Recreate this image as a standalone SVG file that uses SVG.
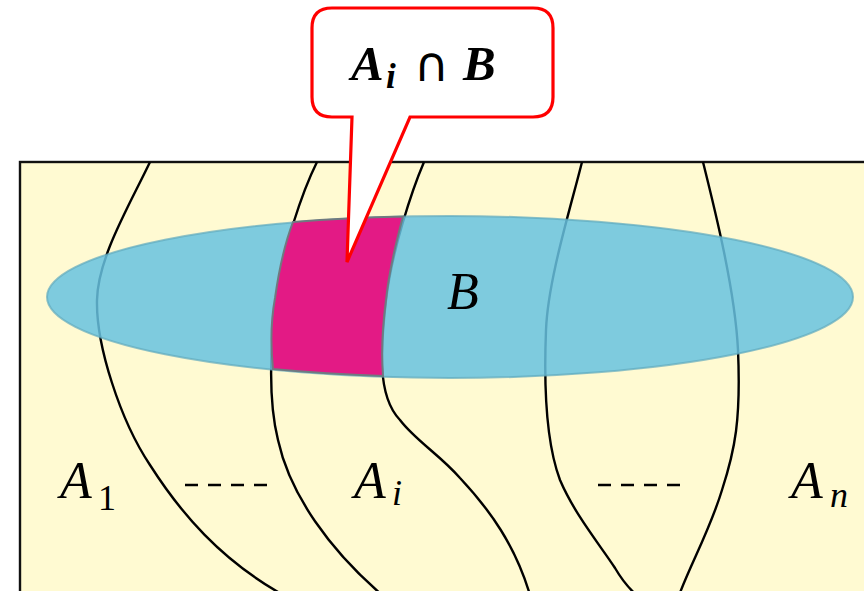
<svg xmlns="http://www.w3.org/2000/svg" width="864" height="591" viewBox="0 0 864 591">
<style>
.curve{fill:none;stroke:#000;stroke-width:2.4}
.lbl{font-family:"Liberation Serif","DejaVu Serif",serif;font-style:italic;fill:#000}
.sub{font-family:"Liberation Serif","DejaVu Serif",serif;fill:#000}
.title{font-family:"Liberation Serif","DejaVu Serif",serif;font-style:italic;font-weight:bold;fill:#000}
.dash{stroke:#000;stroke-width:2.6;stroke-dasharray:13 10}
</style>
<rect width="864" height="591" fill="#fff"/>
<g id="universe">
<rect x="20" y="162" width="860" height="440" fill="#FFFAD2" stroke="#111" stroke-width="2.4"/>
</g>
<g id="connectors">
<path class="curve" d="M150,162 C128,208 98,258 97,300 C96,345 120,420 150,465 C180,512 220,560 285,596"/>
<path class="curve" d="M317,162 C303,190 282,250 276,300 C270,350 268,400 278,440 C290,495 330,550 382,595"/>
<path class="curve" d="M424,162 C412,190 392,250 386,300 C381,345 376,395 400,420 C415,440 440,455 460,478 C490,510 515,545 530,595"/>
<path class="curve" d="M582,162 C570,210 548,280 546,330 C544,380 545,440 560,480 C575,515 600,545 615,568 C622,580 630,590 640,598"/>
<path class="curve" d="M703,162 C715,210 735,290 738,350 C741,420 735,450 722,490 C710,530 690,565 678,598"/>
</g>
<g id="B">
<ellipse cx="450" cy="297" rx="403" ry="81" fill="#67C2E0" fill-opacity="0.85" stroke="#5FA9BE" stroke-opacity="0.7" stroke-width="2"/>
</g>
<g id="intersection">
<path d="M293,222 A403,81 0 0 1 403,216.6 C394,250 388,280 386,300 C382,330 381,350 383,376 A403,81 0 0 1 273,369 C270,340 271,320 275,298 C279,270 286,240 293,222 Z" fill="#E31A85" stroke="#6F7A80" stroke-width="2"/>
</g>
<g id="callout">
<path d="M332,8 H533 Q553,8 553,28 V97 Q553,117 533,117 H410 L347,262 L352,117 H332 Q312,117 312,97 V28 Q312,8 332,8 Z" fill="#fff" stroke="#FF0000" stroke-width="3.2" stroke-linejoin="miter"/>
<text class="title" x="351" y="80" font-size="49">A</text>
<text class="title" x="386" y="88" font-size="35">i</text>
<text x="414" y="81" font-size="48" font-family="DejaVu Sans, sans-serif" fill="#000">∩</text>
<text class="title" x="463" y="80" font-size="49">B</text>
</g>
<g id="labels">
<text class="lbl" x="447" y="309" font-size="52">B</text>
<text class="lbl" x="60" y="498" font-size="52">A</text>
<text class="sub" x="98" y="510" font-size="36">1</text>
<text class="lbl" x="354" y="498" font-size="52">A</text>
<text class="lbl" x="392" y="505" font-size="36">i</text>
<text class="lbl" x="791" y="498" font-size="52">A</text>
<text class="lbl" x="830" y="507" font-size="36">n</text>
<line class="dash" x1="185" y1="485" x2="267" y2="485"/>
<line class="dash" x1="598" y1="485" x2="680" y2="485"/>
</g>
</svg>
